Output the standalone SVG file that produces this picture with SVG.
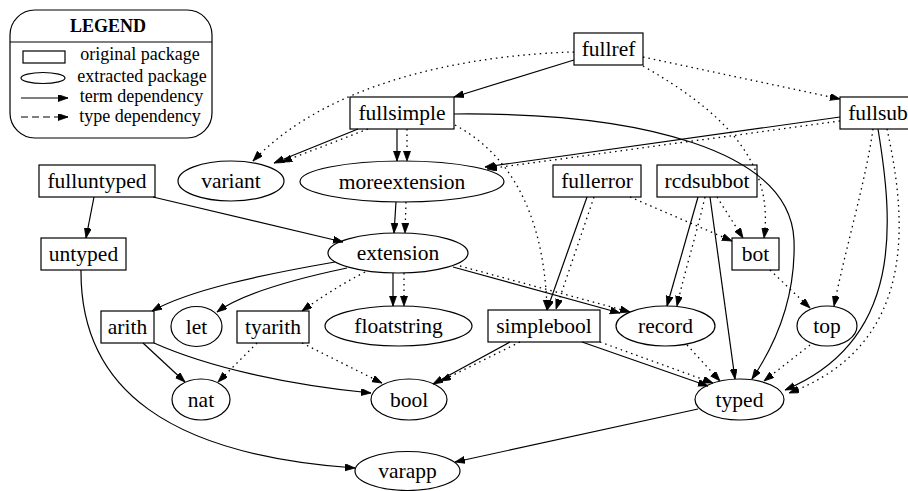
<svg xmlns="http://www.w3.org/2000/svg" width="908" height="491" viewBox="0 0 908 491">
<style>
  .n rect, .n ellipse { fill: none; stroke: #000; stroke-width: 1.2; }
  .n text { font-family: "Liberation Serif", "Times New Roman", serif; font-size: 21.5px; text-anchor: middle; fill: #000; }
  .t { fill: none; stroke: #000; stroke-width: 1.2; marker-end: url(#ah); }
  .d { fill: none; stroke: #000; stroke-width: 1.3; stroke-dasharray: 1.5 4; marker-end: url(#ah); }
  .lg { font-family: "Liberation Serif", "Times New Roman", serif; font-size: 18px; text-anchor: middle; fill: #000; }
</style>
<defs>
  <marker id="ah" markerUnits="userSpaceOnUse" markerWidth="11" markerHeight="8" refX="10" refY="3.5" orient="auto">
    <path d="M0,0 L10,3.5 L0,7 z" fill="#000" stroke="#000" stroke-width="0.8"/>
  </marker>
</defs>
<rect width="908" height="491" fill="#fff"/>

<g id="legend">
  <rect x="10" y="10" width="202" height="128" rx="25" ry="25" fill="none" stroke="#000" stroke-width="1.2"/>
  <line x1="10" y1="42" x2="212" y2="42" stroke="#000" stroke-width="1.2"/>
  <text class="lg" x="108" y="32" font-weight="bold">LEGEND</text>
  <rect x="23" y="51" width="42" height="12" fill="none" stroke="#000" stroke-width="1.2"/>
  <text class="lg" x="140" y="60">original package</text>
  <ellipse cx="43" cy="78" rx="22" ry="5.5" fill="none" stroke="#000" stroke-width="1.2"/>
  <text class="lg" x="142" y="81.5">extracted package</text>
  <path d="M21,98 L68,98" class="t"/>
  <text class="lg" x="141.5" y="102">term dependency</text>
  <path d="M21,117 L68,117" fill="none" stroke="#000" stroke-width="1.2" stroke-dasharray="7 4" marker-end="url(#ah)"/>
  <text class="lg" x="140" y="122">type dependency</text>
</g>

<g id="edges">
  <path class="t" d="M574,60 L454,97"/>
  <path class="d" d="M574,52 C470,55 330,80 253,161"/>
  <path class="d" d="M643,57 L840,99"/>
  <path class="d" d="M643,66 C720,110 775,160 764,238"/>
  <path class="t" d="M358,129 L274,163"/>
  <path class="d" d="M368,129 L282,162"/>
  <path class="t" d="M397,129 L397,161"/>
  <path class="d" d="M407,129 L407,161"/>
  <path class="t" d="M454,114 C640,112 790,150 794,240 C796,300 775,345 752,379"/>
  <path class="d" d="M455,125 C520,160 545,230 547,310"/>
  <path class="t" d="M840,117 L485,167"/>
  <path class="d" d="M840,121 L487,169"/>
  <path class="d" d="M873,129 C866,180 845,250 834,306"/>
  <path class="t" d="M878,129 C893,220 905,340 785,390"/>
  <path class="d" d="M887,129 C907,220 918,345 789,393"/>
  <path class="t" d="M94,197 L86,238"/>
  <path class="t" d="M153,197 L343,242"/>
  <path class="t" d="M81,270 C80,390 170,455 355,468"/>
  <path class="t" d="M396,202 L394,233"/>
  <path class="d" d="M406,202 L405,233"/>
  <path class="t" d="M335,262 C260,275 190,290 152,311"/>
  <path class="t" d="M347,268 C290,280 240,295 217,312"/>
  <path class="d" d="M365,272 C340,285 320,298 302,311"/>
  <path class="t" d="M393,273 L393,306"/>
  <path class="d" d="M404,273 L404,306"/>
  <path class="t" d="M453,267 L620,313"/>
  <path class="d" d="M460,266 L630,312"/>
  <path class="t" d="M587,197 L547,310"/>
  <path class="d" d="M594,197 L556,309"/>
  <path class="d" d="M630,197 L732,241"/>
  <path class="t" d="M698,197 L667,306"/>
  <path class="d" d="M705,197 C695,240 685,270 677,306"/>
  <path class="t" d="M710,197 L735,379"/>
  <path class="d" d="M717,197 L743,238"/>
  <path class="d" d="M770,270 L810,308"/>
  <path class="d" d="M810,345 L764,381"/>
  <path class="d" d="M687,345 L720,381"/>
  <path class="t" d="M582,342 L708,386"/>
  <path class="d" d="M600,342 L713,383"/>
  <path class="t" d="M510,342 L433,384"/>
  <path class="d" d="M520,342 L441,381"/>
  <path class="t" d="M143,343 L185,382"/>
  <path class="t" d="M154,343 C210,368 290,385 371,393"/>
  <path class="d" d="M257,343 L218,382"/>
  <path class="d" d="M302,343 L382,383"/>
  <path class="t" d="M698,409 L455,462"/>
</g>

<g id="fullref" class="n"><rect x="574" y="33" width="69" height="32"/><text x="608.5" y="56">fullref</text></g>
<g id="fullsimple" class="n"><rect x="350" y="97" width="104" height="32"/><text x="402" y="120">fullsimple</text></g>
<g id="fullsub" class="n"><rect x="840" y="97" width="76" height="32"/><text x="878" y="120">fullsub</text></g>
<g id="fulluntyped" class="n"><rect x="39" y="165" width="116" height="32"/><text x="97" y="188">fulluntyped</text></g>
<g id="fullerror" class="n"><rect x="553" y="165" width="88" height="32"/><text x="597" y="188">fullerror</text></g>
<g id="rcdsubbot" class="n"><rect x="657" y="165" width="100" height="32"/><text x="707" y="188">rcdsubbot</text></g>
<g id="untyped" class="n"><rect x="41" y="238" width="85" height="32"/><text x="83.5" y="261">untyped</text></g>
<g id="bot" class="n"><rect x="732" y="238" width="47" height="32"/><text x="755.5" y="261">bot</text></g>
<g id="arith" class="n"><rect x="101" y="311" width="53" height="32"/><text x="127.5" y="334">arith</text></g>
<g id="tyarith" class="n"><rect x="237" y="311" width="72" height="32"/><text x="273" y="334">tyarith</text></g>
<g id="simplebool" class="n"><rect x="488" y="310" width="112" height="32"/><text x="544" y="333">simplebool</text></g>

<g id="variant" class="n"><ellipse cx="231" cy="181" rx="53" ry="20"/><text x="231" y="188">variant</text></g>
<g id="moreextension" class="n"><ellipse cx="402" cy="181.5" rx="102" ry="20.5"/><text x="402" y="188.5">moreextension</text></g>
<g id="extension" class="n"><ellipse cx="398" cy="253" rx="70" ry="20"/><text x="398" y="260">extension</text></g>
<g id="floatstring" class="n"><ellipse cx="398.5" cy="326" rx="73.5" ry="20"/><text x="398.5" y="333">floatstring</text></g>
<g id="record" class="n"><ellipse cx="665.5" cy="326" rx="49.5" ry="20"/><text x="665.5" y="333">record</text></g>
<g id="top" class="n"><ellipse cx="827" cy="326" rx="30" ry="20"/><text x="827" y="333">top</text></g>
<g id="let" class="n"><ellipse cx="196.5" cy="326.5" rx="25.5" ry="20"/><text x="196.5" y="333.5">let</text></g>
<g id="nat" class="n"><ellipse cx="201" cy="399.5" rx="29" ry="20.5"/><text x="201" y="406.5">nat</text></g>
<g id="bool" class="n"><ellipse cx="409" cy="399.5" rx="38" ry="20.5"/><text x="409" y="406.5">bool</text></g>
<g id="typed" class="n"><ellipse cx="739.5" cy="399.5" rx="44.5" ry="20.5"/><text x="739.5" y="406.5">typed</text></g>
<g id="varapp" class="n"><ellipse cx="407.5" cy="471" rx="52.5" ry="19.5"/><text x="407.5" y="478">varapp</text></g>
</svg>
